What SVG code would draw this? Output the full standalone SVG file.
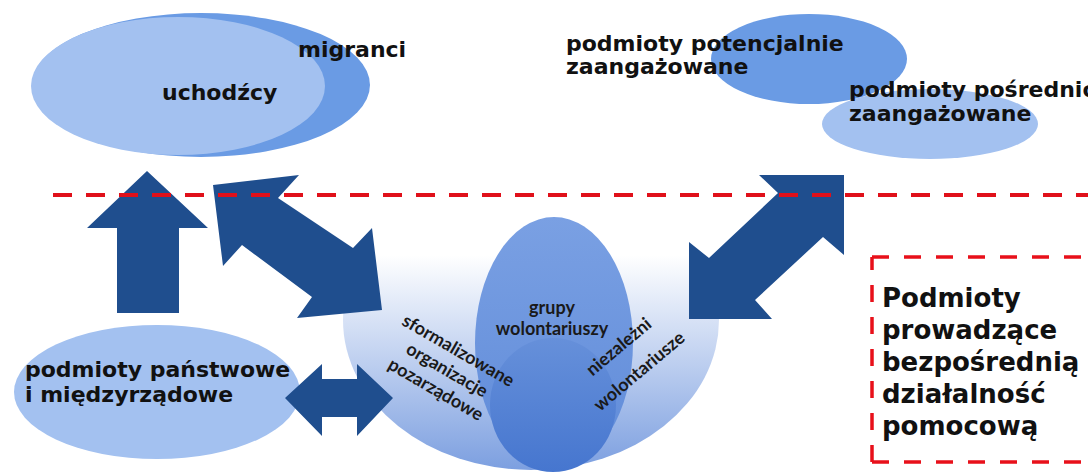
<svg xmlns="http://www.w3.org/2000/svg" width="1088" height="472" viewBox="0 0 1088 472">
<style>
.lbl{font-family:"DejaVu Sans",Verdana,sans-serif;font-weight:bold;fill:#111;font-size:22px}
.box{font-family:"DejaVu Sans",Verdana,sans-serif;font-weight:bold;fill:#111;font-size:26px}
.sm{font-family:Lato,"Liberation Sans",sans-serif;font-weight:bold;fill:#1a1a1a;font-size:18px;text-anchor:middle}
.arr{fill:#1f4e8e}
.dash{stroke:#e0101a;stroke-width:4;stroke-dasharray:19 14;fill:none}
.boxline{stroke:#e8101a;stroke-width:3.5;stroke-dasharray:17 15;fill:none}
.dark{fill:#6a9be4}
.light{fill:#a3c1f0}
</style>
<defs>
<linearGradient id="bowl" gradientUnits="userSpaceOnUse" x1="0" y1="255" x2="0" y2="470">
<stop offset="0" stop-color="#ffffff"/>
<stop offset="1" stop-color="#7c9fe0"/>
</linearGradient>
<linearGradient id="tall" x1="0" y1="0" x2="0" y2="1">
<stop offset="0" stop-color="#7aa0e3"/>
<stop offset="1" stop-color="#5f8bd9"/>
</linearGradient>
<linearGradient id="inner" x1="0" y1="0" x2="0" y2="1">
<stop offset="0" stop-color="#6690da"/>
<stop offset="1" stop-color="#4676cf"/>
</linearGradient>
</defs>

<g id="migranci">
<ellipse class="dark" cx="201" cy="85" rx="169" ry="72"/>
</g>
<g id="uchodzcy">
<ellipse class="light" cx="178" cy="86" rx="147" ry="69"/>
<text class="lbl" x="162" y="100">uchodźcy</text>
</g>
<g id="migranci-label">
<text class="lbl" x="298" y="57">migranci</text>
</g>

<g id="potencjalnie">
<ellipse class="dark" cx="809" cy="59" rx="98" ry="45"/>
<text class="lbl" x="566" y="51">podmioty potencjalnie</text>
<text class="lbl" x="566" y="74">zaangażowane</text>
</g>
<g id="posrednio">
<ellipse class="light" cx="930" cy="124" rx="108" ry="35"/>
<text class="lbl" x="849" y="97">podmioty pośrednio</text>
<text class="lbl" x="849" y="121">zaangażowane</text>
</g>

<g id="panstwowe">
<ellipse class="light" cx="157" cy="392" rx="143" ry="67"/>
<text class="lbl" x="25" y="377">podmioty państwowe</text>
<text class="lbl" x="25" y="402">i międzyrządowe</text>
</g>

<g id="organizacje">
<ellipse fill="url(#bowl)" cx="531" cy="320" rx="188" ry="150"/>
</g>

<g id="grupy">
<ellipse fill="url(#tall)" cx="554" cy="343" rx="79" ry="126"/>
<text class="sm" x="552" y="314">grupy</text>
<text class="sm" x="552" y="335">wolontariuszy</text>
</g>

<g id="niezalezni">
<ellipse fill="url(#inner)" cx="553" cy="405" rx="63" ry="67"/>
<g transform="translate(629,359) rotate(-40)">
<text class="sm" x="0" y="-10">niezależni</text>
<text class="sm" x="0" y="22">wolontariusze</text>
</g>
</g>

<g id="organizacje-label">
<g transform="translate(447,370) rotate(30)">
<text class="sm" x="0" y="-16.5">sformalizowane</text>
<text class="sm" x="0" y="6">organizacje</text>
<text class="sm" x="0" y="28.5">pozarządowe</text>
</g>
</g>

<g id="connectors">
<polygon class="arr" points="147,171 208,228 179,228 179,313 117,313 117,228 87,228"/>
<polygon class="arr" points="213,185 299,175 278,198 353,248 372,228 382,310 297,318 312,297 242,245 223,266"/>
<polygon class="arr" points="844,175 844,255 823,237 755,300 772,319 689,319 689,242 709,258 778,193 759,175"/>
<polygon class="arr" points="285,398 322,364 322,379 357,379 357,364 393,398 357,436 357,417 322,417 322,436"/>
</g>

<g id="boundary">
<path class="dash" d="M53,195 H1088"/>
</g>

<g id="prowadzace">
<path class="boxline" d="M872,257 H1095"/>
<path class="boxline" d="M872,462 V257"/>
<path class="boxline" d="M872,462 H1095"/>
<text class="box" x="882" y="307">Podmioty</text>
<text class="box" x="882" y="339">prowadzące</text>
<text class="box" x="882" y="371">bezpośrednią</text>
<text class="box" x="882" y="403">działalność</text>
<text class="box" x="882" y="435">pomocową</text>
</g>
</svg>
